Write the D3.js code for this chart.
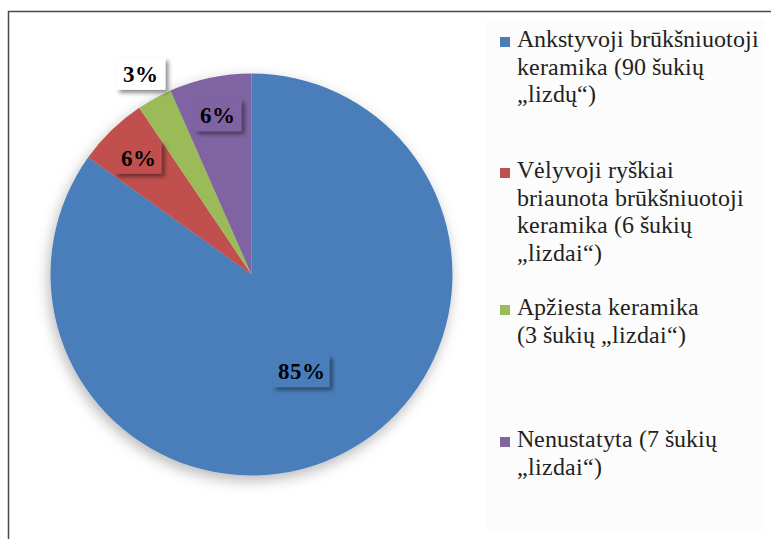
<!DOCTYPE html>
<html><head><meta charset="utf-8"><script src="https://cdn.jsdelivr.net/npm/d3@7"></script>
<style>
  @font-face { font-family: "ChartSerif"; src: local("Liberation Serif"), local("LiberationSerif"), local("Liberation Serif Regular"), local("LiberationSerif-Regular"), local("Tinos"), local("Times New Roman"); font-weight: normal; }
  @font-face { font-family: "ChartSerif"; src: local("Liberation Serif Bold"), local("LiberationSerif-Bold"), local("Tinos Bold"), local("Times New Roman Bold"); font-weight: bold; }
</style>
</head>
<body style="margin:0">
<svg id="chart" width="771" height="539"></svg>
<script>
// ---- data ----
const categories = [
  "Ankstyvoji brūkšniuotoji keramika (90 šukių „lizdų“)",
  "Vėlyvoji ryškiai briaunota brūkšniuotoji keramika (6 šukių „lizdai“)",
  "Apžiesta keramika (3 šukių „lizdai“)",
  "Nenustatyta (7 šukių „lizdai“)"
];
const legendLines = [
  ["Ankstyvoji brūkšniuotoji", "keramika (90 šukių", "„lizdų“)"],
  ["Vėlyvoji ryškiai", "briaunota brūkšniuotoji", "keramika (6 šukių", "„lizdai“)"],
  ["Apžiesta keramika", "(3 šukių „lizdai“)"],
  ["Nenustatyta (7 šukių", "„lizdai“)"]
];
const values = [90, 6, 3, 7];
const percentLabels = ["85%", "6%", "3%", "6%"];
const colors = ["#4A7EBB", "#C0504D", "#9BBB59", "#8064A2"];

// ---- layout ----
const FONT = '"ChartSerif", "Liberation Serif", "DejaVu Serif", serif';
const svg = d3.select("#chart");
const W = 771, H = 539;
const cx = 251.5, cy = 274.5, R = 201;

const defs = svg.append("defs");
const f1 = defs.append("filter").attr("id", "pieShadow")
  .attr("x", "-20%").attr("y", "-20%").attr("width", "140%").attr("height", "140%");
f1.append("feDropShadow").attr("dx", -2).attr("dy", 5).attr("stdDeviation", 7)
  .attr("flood-color", "#000").attr("flood-opacity", 0.28);
const f2 = defs.append("filter").attr("id", "boxShadow")
  .attr("x", "-30%").attr("y", "-30%").attr("width", "170%").attr("height", "170%");
f2.append("feDropShadow").attr("dx", 3).attr("dy", 3).attr("stdDeviation", 2)
  .attr("flood-color", "#000").attr("flood-opacity", 0.45);

// frame
svg.append("path")
  .attr("d", `M8.5,${H} L8.5,11.5 L${W},11.5`)
  .attr("fill", "none").attr("stroke", "#4a4a4a").attr("stroke-width", 1.5);

// legend background
svg.append("rect").attr("x", 486).attr("y", 20).attr("width", 279).attr("height", 510)
  .attr("fill", "#fcfcfc");

// pie
const pie = d3.pie().sort(null).value(d => d);
const arcs = pie(values);
const arc = d3.arc().innerRadius(0).outerRadius(R);

const g = svg.append("g").attr("transform", `translate(${cx},${cy})`);
g.append("g").attr("filter", "url(#pieShadow)")
  .selectAll("path").data(arcs).enter().append("path")
  .attr("d", arc)
  .attr("fill", (d, i) => colors[i]);

// labels
function labelFactor(d) {
  const frac = (d.endAngle - d.startAngle) / (2 * Math.PI);
  if (frac > 0.5) return 0.54;
  if (frac < 0.04) return 1.14;
  return 0.81;
}
const boxW = [57, 47, 49, 47], boxH = 32;
arcs.forEach((d, i) => {
  const a = (d.startAngle + d.endAngle) / 2;
  const r = R * labelFactor(d);
  const x = Math.sin(a) * r, y = -Math.cos(a) * r;
  const outside = labelFactor(d) > 1;
  const lg = g.append("g").attr("transform", `translate(${x},${y})`);
  lg.append("rect")
    .attr("x", -boxW[i] / 2).attr("y", -boxH / 2)
    .attr("width", boxW[i]).attr("height", boxH)
    .attr("fill", outside ? "#ffffff" : colors[i])
    .attr("filter", "url(#boxShadow)");
  lg.append("text")
    .style("font-family", FONT)
    .style("font-weight", "bold")
    .style("font-size", "23px")
    .attr("text-anchor", "middle")
    .attr("dy", "0.35em")
    .attr("fill", "#000")
    .text(percentLabels[i]);
});

// legend
const legendTop = [47, 178, 315, 447];
const lineH = 27.5;
legendLines.forEach((lines, i) => {
  svg.append("rect")
    .attr("x", 500).attr("y", legendTop[i] - 10)
    .attr("width", 10).attr("height", 10)
    .attr("fill", colors[i]);
  lines.forEach((ln, j) => {
    svg.append("text")
      .style("font-family", FONT)
      .style("font-size", "24px")
      .attr("x", 517).attr("y", legendTop[i] + j * lineH)
      .attr("fill", "#231f20")
      .text(ln);
  });
});
</script>
</body>
</html>
